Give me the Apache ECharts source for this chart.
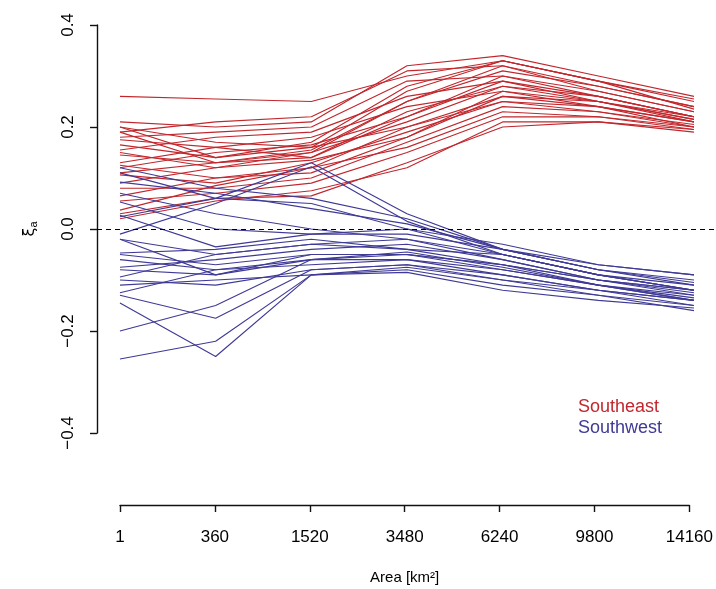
<!DOCTYPE html>
<html>
<head>
<meta charset="utf-8">
<script src="https://cdn.jsdelivr.net/npm/echarts@6/dist/echarts.min.js"></script>
<style>html,body{margin:0;padding:0;background:#fff}#c{width:716px;height:589px}</style>
</head>
<body>
<div id="c"></div>
<script>
var categories = ['1', '360', '1520', '3480', '6240', '9800', '14160'];
var yTicks = [-0.4, -0.2, 0.0, 0.2, 0.4];

var southeast = [
  [0.26, 0.255, 0.25, 0.30, 0.33, 0.29, 0.255],
  [0.21, 0.20, 0.21, 0.32, 0.34, 0.30, 0.26],
  [0.20, 0.14, 0.16, 0.27, 0.33, 0.29, 0.25],
  [0.19, 0.13, 0.15, 0.25, 0.31, 0.28, 0.24],
  [0.19, 0.21, 0.22, 0.31, 0.32, 0.27, 0.23],
  [0.18, 0.19, 0.20, 0.29, 0.30, 0.26, 0.22],
  [0.165, 0.14, 0.17, 0.28, 0.33, 0.29, 0.235],
  [0.155, 0.18, 0.19, 0.26, 0.29, 0.25, 0.21],
  [0.145, 0.13, 0.14, 0.23, 0.28, 0.25, 0.215],
  [0.13, 0.16, 0.18, 0.24, 0.27, 0.24, 0.20],
  [0.125, 0.10, 0.12, 0.20, 0.26, 0.24, 0.21],
  [0.12, 0.15, 0.165, 0.22, 0.30, 0.27, 0.23],
  [0.106, 0.09, 0.13, 0.19, 0.25, 0.23, 0.20],
  [0.09, 0.12, 0.15, 0.21, 0.28, 0.26, 0.22],
  [0.08, 0.08, 0.10, 0.17, 0.24, 0.23, 0.205],
  [0.065, 0.10, 0.11, 0.18, 0.27, 0.25, 0.215],
  [0.055, 0.07, 0.09, 0.15, 0.22, 0.22, 0.20],
  [0.037, 0.085, 0.12, 0.16, 0.23, 0.22, 0.195],
  [0.03, 0.06, 0.065, 0.13, 0.20, 0.21, 0.19],
  [0.02, 0.055, 0.075, 0.12, 0.21, 0.21, 0.195],
  [0.20, 0.17, 0.16, 0.20, 0.25, 0.24, 0.21],
  [0.15, 0.12, 0.135, 0.18, 0.26, 0.25, 0.22],
  [0.11, 0.13, 0.155, 0.25, 0.32, 0.28, 0.24],
  [0.175, 0.16, 0.14, 0.22, 0.29, 0.26, 0.22]
];

var southwest = [
  [0.12, 0.08, 0.06, 0.02, -0.04, -0.08, -0.11],
  [0.11, 0.06, 0.05, 0.0, -0.05, -0.09, -0.12],
  [0.092, 0.07, 0.04, 0.01, -0.04, -0.08, -0.10],
  [0.07, 0.03, 0.0, -0.02, -0.05, -0.09, -0.11],
  [0.053, 0.0, -0.01, -0.01, -0.04, -0.07, -0.09],
  [0.024, 0.06, 0.13, 0.03, -0.04, -0.08, -0.105],
  [-0.01, 0.05, 0.122, 0.015, -0.05, -0.09, -0.12],
  [-0.02, -0.05, -0.03, -0.02, -0.06, -0.10, -0.13],
  [-0.047, -0.04, -0.02, -0.04, -0.07, -0.11, -0.14],
  [-0.05, -0.07, -0.05, -0.05, -0.08, -0.11, -0.13],
  [-0.075, -0.06, -0.04, -0.03, -0.06, -0.10, -0.12],
  [-0.08, -0.09, -0.06, -0.06, -0.09, -0.12, -0.15],
  [-0.094, -0.05, -0.03, -0.04, -0.05, -0.09, -0.12],
  [-0.10, -0.11, -0.08, -0.07, -0.10, -0.13, -0.16],
  [-0.125, -0.08, -0.07, -0.06, -0.08, -0.11, -0.14],
  [-0.13, -0.175, -0.08, -0.07, -0.09, -0.12, -0.14],
  [-0.20, -0.15, -0.06, -0.05, -0.07, -0.10, -0.12],
  [-0.255, -0.22, -0.09, -0.08, -0.11, -0.13, -0.15],
  [-0.145, -0.25, -0.09, -0.075, -0.10, -0.12, -0.14],
  [-0.02, -0.09, -0.05, -0.05, -0.07, -0.10, -0.125],
  [0.027, -0.035, -0.01, 0.0, -0.03, -0.07, -0.09],
  [-0.06, -0.08, -0.06, -0.045, -0.075, -0.11, -0.135],
  [-0.11, -0.10, -0.09, -0.085, -0.12, -0.14, -0.155]
];

var RED = '#C1272D';
var BLUE = '#3F3A96';

function mk(name, color, arr, withRef) {
  var s = {
    name: name,
    type: 'line',
    xAxisIndex: 0,
    yAxisIndex: 0,
    symbol: 'none',
    silent: true,
    lineStyle: { color: color, width: 1.15 },
    itemStyle: { color: color },
    data: arr.map(function (v, i) { return [i, v]; })
  };
  if (withRef) {
    s.markLine = {
      silent: true,
      symbol: 'none',
      label: { show: false },
      lineStyle: { color: '#000', type: [5, 4], width: 1.1 },
      data: [{ yAxis: 0 }]
    };
  }
  return s;
}

var series = [];
southeast.forEach(function (a, k) { series.push(mk('Southeast', RED, a, k === 0)); });
southwest.forEach(function (a) { series.push(mk('Southwest', BLUE, a, false)); });

var chart = echarts.init(document.getElementById('c'));
chart.setOption({
  animation: false,
  backgroundColor: '#fff',
  textStyle: { fontFamily: 'Liberation Sans, Arial, sans-serif' },
  legend: {
    orient: 'vertical',
    left: 568,
    top: 393,
    itemGap: 3,
    itemWidth: 0,
    itemHeight: 0,
    selectedMode: false,
    data: [
      { name: 'Southeast', icon: 'none', textStyle: { color: RED, fontSize: 18 } },
      { name: 'Southwest', icon: 'none', textStyle: { color: BLUE, fontSize: 18 } }
    ]
  },
  grid: [
    { left: 97, right: 0, top: 25, height: 408 },
    { left: 120, right: 22, top: 504, height: 1 }
  ],
  xAxis: [
    { type: 'value', gridIndex: 0, min: -0.24, max: 6.23, show: false },
    {
      type: 'category', gridIndex: 1, data: categories, boundaryGap: false,
      position: 'bottom',
      axisLine: { show: true, lineStyle: { color: '#111', width: 1.4 } },
      axisTick: { show: true, length: 7, alignWithLabel: true, lineStyle: { color: '#111', width: 1.4 } },
      axisLabel: { color: '#000', fontSize: 17, margin: 24, interval: 0 },
      splitLine: { show: false },
      name: 'Area [km²]',
      nameLocation: 'middle',
      nameGap: 65,
      nameTextStyle: { color: '#000', fontSize: 15 }
    }
  ],
  yAxis: [
    {
      type: 'value', gridIndex: 0, min: -0.4, max: 0.4, interval: 0.2,
      axisLine: { show: true, onZero: false, lineStyle: { color: '#111', width: 1.4 } },
      axisTick: { show: true, length: 7, lineStyle: { color: '#111', width: 1.4 } },
      splitLine: { show: false },
      axisLabel: {
        color: '#000', fontSize: 17, rotate: 90, margin: 20,
        formatter: function (v) {
          var t = yTicks.reduce(function (b, x) { return Math.abs(x - v) < Math.abs(b - v) ? x : b; }, yTicks[0]);
          return (t < 0 ? '\u2212' : '') + Math.abs(t).toFixed(1);
        }
      },
      name: '{x|\u03BE}{s|a}',
      nameLocation: 'middle',
      nameRotate: 90,
      nameGap: 58,
      nameTextStyle: {
        rich: {
          x: { fontSize: 16, color: '#000', fontFamily: 'DejaVu Sans' },
          s: { fontSize: 11, color: '#000', padding: [8, 0, 0, 0] }
        }
      }
    },
    { type: 'value', gridIndex: 1, show: false, min: 0, max: 1 }
  ],
  series: series
});
</script>
</body>
</html>
